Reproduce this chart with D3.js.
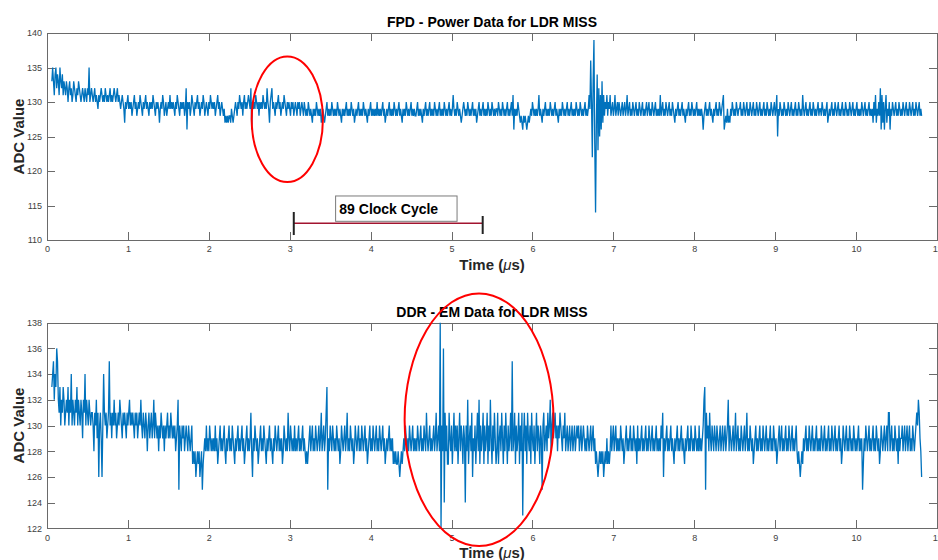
<!DOCTYPE html>
<html>
<head>
<meta charset="utf-8">
<script src="https://d3js.org/d3.v7.min.js"></script>
<style>
body { margin: 0; background: #fff; }
svg { font-family: "Liberation Sans", Arial, sans-serif; }
.axis path, .axis line { stroke: #6a6a6a; shape-rendering: crispEdges; }
.axis text { fill: #404040; font-size: 9px; }
.title { font-weight: bold; font-size: 14px; fill: #000; }
.lab { font-weight: bold; font-size: 15px; fill: #262626; }
</style>
</head>
<body>
<svg id="chart" width="938" height="560"></svg>
<script>
// sampling of both traces (us)
var sampleStart = 0.06, samplePeriod = 0.01;

var timeTicks = [0, 1, 2, 3, 4, 5, 6, 7, 8, 9, 10, 11];
var fpdTicks = [110, 115, 120, 125, 130, 135, 140];
var ddrTicks = [122, 124, 126, 128, 130, 132, 134, 136, 138];

// FPD power trace, ADC counts (one row = 0.5 us)
var fpdValues = [
  133,135,133,131,134,135,132,134,133,131,135,133,132,134,131,133,132,131,133,132,130,132,133,131,132,130,131,133,132,131,130,132,131,133,132,131,130,131,132,131,130,132,131,130,132,131,135,130,131,132,
  131,130,131,132,130,131,130,129,131,130,131,132,131,130,131,130,132,131,130,131,130,131,132,130,131,130,131,132,131,130,131,132,130,131,130,129,130,131,130,129,127,130,129,130,131,129,130,129,130,128,
  129,130,131,129,130,128,129,130,129,131,130,129,128,130,129,130,131,129,130,129,128,130,129,130,129,131,130,129,128,130,129,130,129,127,129,130,129,131,130,128,129,130,128,129,130,129,131,129,130,129,
  130,129,128,130,129,131,130,129,128,130,129,130,129,130,128,129,132,126,130,129,130,128,129,131,130,129,128,130,129,130,131,129,130,128,129,130,129,131,130,128,129,130,129,128,130,129,131,130,129,130,
  129,130,128,129,130,131,129,130,128,129,130,129,128,129,127,128,127,128,127,128,128,127,129,128,127,128,129,130,129,128,130,129,131,130,129,130,128,130,131,129,130,129,130,131,130,129,132,126,130,129,
  130,129,131,130,129,130,128,130,129,130,129,131,130,129,130,129,132,130,129,127,130,131,132,129,130,129,128,130,129,130,131,129,130,128,129,130,129,131,130,129,128,130,129,130,129,128,130,129,130,128,
  129,130,129,128,130,129,130,128,129,130,129,128,130,129,128,129,128,130,129,128,129,128,127,129,128,129,128,130,129,128,129,128,129,127,128,129,128,127,128,129,130,128,129,128,129,128,130,129,128,129,
  128,129,128,130,129,128,129,128,127,129,128,129,128,129,130,128,129,128,129,128,130,129,128,129,127,128,129,128,129,130,128,129,128,129,128,130,129,128,129,128,127,129,128,129,130,128,129,128,129,128,
  129,128,130,128,129,128,129,128,129,130,128,129,127,128,129,128,129,130,128,129,128,129,128,130,129,128,129,128,129,130,128,129,128,127,129,128,129,128,130,129,128,129,128,129,130,128,129,128,129,128,
  128,129,130,128,129,128,129,128,127,129,128,129,130,128,129,128,129,130,128,129,128,129,128,130,129,128,129,128,129,130,128,129,128,129,128,130,129,128,129,128,129,130,128,129,128,129,131,129,128,129,
  128,130,129,128,129,128,127,128,129,130,129,128,129,128,130,129,128,129,128,129,130,128,129,128,129,127,128,129,130,128,129,128,129,130,128,129,128,129,128,130,129,128,129,128,130,129,128,129,128,129,
  129,128,130,129,128,129,128,130,129,128,129,128,129,130,128,129,128,129,130,128,131,126,129,128,129,128,130,129,128,127,128,127,126,128,127,128,127,126,127,128,127,128,129,128,130,129,128,129,128,129,
  128,129,131,128,129,128,127,129,128,129,130,128,129,128,129,128,130,129,128,129,128,129,130,128,129,128,127,129,128,129,128,130,129,128,129,128,129,130,128,129,128,129,130,128,129,128,129,128,130,129,
  128,129,128,130,129,128,129,128,129,130,128,129,128,129,131,129,136,130,122,133,139,124,114,127,134,123,132,125,131,126,133,127,131,128,130,129,131,128,130,129,131,128,129,130,128,129,131,128,129,130,
  128,130,129,128,129,130,128,129,130,128,129,131,128,129,130,128,129,128,130,129,128,129,130,128,129,128,130,129,128,129,130,128,129,128,129,130,128,129,130,128,129,128,130,129,128,129,130,128,129,128,
  129,128,131,128,129,130,128,129,128,130,129,128,129,130,128,129,128,130,129,128,127,129,128,129,130,128,129,128,129,130,128,129,128,127,129,128,129,130,128,129,128,130,129,128,129,128,129,130,128,129,
  128,129,128,129,128,126,128,129,130,128,129,128,129,130,128,129,128,127,129,128,129,130,128,129,128,130,129,128,129,130,131,126,127,128,127,129,127,128,127,129,128,130,129,128,129,128,130,129,128,129,
  129,130,128,129,128,130,129,128,129,130,128,129,128,130,129,128,129,130,128,129,128,130,129,128,129,130,128,129,128,129,130,128,129,128,130,129,128,129,128,130,129,128,129,130,128,129,131,125,129,128,
  130,129,128,129,128,130,129,128,129,128,130,129,128,129,130,128,129,128,129,130,128,129,128,130,129,128,129,128,131,129,128,129,130,128,129,128,129,130,128,129,128,130,129,128,129,128,129,130,128,129,
  129,128,130,129,128,129,128,129,130,127,128,129,128,129,130,128,129,128,130,129,128,129,130,128,129,128,129,130,128,129,128,130,129,128,129,128,130,129,128,129,130,128,129,128,129,130,128,129,128,129,
  128,130,129,128,129,130,128,129,128,129,130,128,129,128,129,127,130,128,131,127,129,128,130,128,132,126,131,127,130,126,129,131,127,129,128,130,126,129,128,130,129,128,129,130,128,129,128,130,129,128,
  129,128,130,129,128,129,130,128,129,128,130,129,128,129,130,128,129,128,130,129,128,129,130,128,129,128
];

// DDR EM trace, ADC counts (one row = 0.5 us)
var ddrValues = [
  133,134,135,132,134,133,136,135,132,131,133,130,132,131,133,132,130,131,132,131,133,130,132,131,134,130,132,131,130,132,131,133,130,132,131,130,132,131,129,132,131,134,130,132,131,130,132,131,130,131,
  131,130,128,131,130,132,129,131,126,130,131,129,126,130,134,131,130,131,129,130,131,135,130,131,129,131,130,132,130,131,129,130,131,130,132,131,130,129,131,130,131,130,129,131,130,131,132,130,131,130,
  131,130,129,131,130,131,129,130,131,130,132,130,129,131,130,129,131,130,128,130,131,129,130,131,129,130,132,129,131,130,129,130,128,130,129,131,130,129,130,128,130,129,130,131,129,130,129,131,130,129,
  130,129,130,128,129,130,132,125,130,129,128,130,129,130,128,129,130,129,128,130,129,128,129,130,127,128,127,128,126,127,128,127,128,126,127,128,125,127,128,129,128,130,128,129,128,130,129,128,129,128,
  129,128,130,128,129,127,128,129,130,128,129,128,129,130,128,127,129,128,129,130,128,129,128,130,129,128,127,129,128,129,130,128,129,128,129,130,128,129,127,128,129,130,128,129,128,129,131,128,126,129,
  128,130,129,128,129,127,128,129,130,128,129,128,130,129,128,127,129,128,129,130,128,129,128,127,129,128,130,129,128,129,130,128,129,128,129,127,128,130,129,128,129,128,131,129,128,130,129,128,129,128,
  130,128,129,128,129,130,128,129,128,129,130,128,129,128,127,128,127,128,129,130,128,129,130,128,129,128,130,129,128,129,130,128,129,131,128,129,130,128,129,131,133,125,129,128,130,129,128,130,129,128,
  129,128,130,129,128,129,127,128,130,129,128,129,130,128,129,131,128,129,128,130,129,128,129,127,128,130,129,128,129,130,128,129,128,130,129,128,129,130,128,129,127,128,129,130,128,129,128,130,129,128,
  129,130,128,129,128,130,129,128,129,130,128,129,127,128,129,128,129,130,128,129,128,129,127,128,127,128,127,127,128,127,126,127,128,127,128,129,128,130,129,128,129,128,130,129,128,129,130,128,129,128,
  129,128,130,129,128,129,130,128,129,128,130,129,128,131,129,128,129,130,128,129,128,129,130,128,129,131,128,129,130,128,138,122,130,128,136,124,131,128,130,127,127,131,129,128,130,127,129,131,128,130,
  128,130,127,129,131,128,130,129,127,130,129,124,130,128,132,127,129,130,128,131,126,129,128,130,127,129,131,128,132,127,130,128,129,131,127,130,128,129,131,127,130,128,132,129,127,130,128,131,129,127,
  128,131,127,129,130,128,131,129,127,130,128,131,129,127,130,128,129,131,128,135,128,129,131,127,130,128,129,131,127,130,128,131,123,129,131,128,130,127,131,129,128,130,127,131,129,128,130,127,129,131,
  128,130,129,127,130,129,125,130,131,128,129,130,128,131,129,130,132,128,130,131,129,130,131,129,130,128,130,129,131,130,129,128,130,129,131,128,129,130,128,129,130,128,129,130,128,129,130,128,129,130,
  129,130,128,129,130,128,129,130,129,128,129,128,130,129,128,129,130,128,129,130,128,129,127,128,127,126,127,128,127,128,127,128,126,127,128,127,129,127,128,127,128,130,128,129,130,128,129,130,128,129,
  128,129,128,130,129,128,129,127,128,129,130,128,129,128,129,130,128,129,128,130,129,128,129,127,130,128,129,128,129,130,128,129,128,129,130,128,129,128,130,129,128,129,130,128,129,128,129,130,128,129,
  128,129,128,130,129,131,126,129,128,129,130,128,129,128,129,130,128,129,128,127,129,128,129,130,128,129,128,129,130,128,129,128,127,129,128,129,130,128,129,128,130,129,128,129,128,130,129,128,129,128,
  130,128,129,128,129,130,132,133,125,131,129,130,128,131,129,128,130,129,128,130,129,128,130,129,128,129,130,128,129,130,128,129,130,128,129,130,132,128,130,129,128,129,130,128,129,131,128,129,130,128,
  129,128,130,129,128,129,130,128,129,131,128,129,128,130,129,128,129,127,128,129,130,128,129,128,129,130,128,129,128,130,129,128,129,130,128,129,128,129,130,128,129,128,130,129,128,129,127,128,129,130,
  128,129,130,128,129,128,129,130,128,129,128,130,129,128,129,130,128,129,128,129,130,128,127,128,127,126,127,128,127,129,128,129,130,128,129,128,130,129,128,129,130,128,129,128,129,130,128,129,128,129,
  128,130,129,128,129,130,128,129,128,129,130,128,129,128,130,129,128,129,130,128,129,128,129,130,128,129,127,128,130,129,128,129,130,128,129,128,130,129,128,129,128,130,129,128,129,128,129,130,128,129,
  128,129,125,127,129,128,130,129,128,129,130,128,129,128,129,130,128,129,128,130,129,128,129,127,128,130,129,128,129,130,128,129,130,128,131,131,128,129,130,128,129,128,130,129,128,129,127,130,128,129,
  129,130,128,129,130,128,129,130,128,129,130,128,129,128,130,129,128,129,130,131,130,132,131,129,128,126
];

var svg = d3.select("#chart");
var left = 47, right = 937;

function panel(o) {
  var x = d3.scaleLinear().domain([0, 11]).range([left, right]);
  var y = d3.scaleLinear().domain(o.yDomain).range([o.bottom, o.top]);
  var g = svg.append("g");

  g.append("g").attr("class", "axis")
    .attr("transform", "translate(0," + o.bottom + ")")
    .call(d3.axisBottom(x).tickValues(timeTicks).tickSizeInner(-8).tickSizeOuter(0).tickPadding(6));
  g.append("g").attr("class", "axis")
    .attr("transform", "translate(0," + o.top + ")")
    .call(d3.axisTop(x).tickValues(timeTicks).tickSizeInner(-8).tickSizeOuter(0).tickFormat(""));
  g.append("g").attr("class", "axis")
    .attr("transform", "translate(" + left + ",0)")
    .call(d3.axisLeft(y).tickValues(o.ticks).tickSizeInner(-8).tickSizeOuter(0).tickPadding(5));
  g.append("g").attr("class", "axis")
    .attr("transform", "translate(" + right + ",0)")
    .call(d3.axisRight(y).tickValues(o.ticks).tickSizeInner(-8).tickSizeOuter(0).tickFormat(""));

  var line = d3.line()
    .x(function(d, i) { return x(sampleStart + i * samplePeriod); })
    .y(function(d) { return y(d); });
  g.append("path").datum(o.values)
    .attr("d", line)
    .attr("fill", "none")
    .attr("stroke", "#0072BD")
    .attr("stroke-width", 1.3);

  g.append("text").attr("class", "title")
    .attr("x", (left + right) / 2).attr("y", o.top - 6)
    .attr("text-anchor", "middle").text(o.title);

  var xl = g.append("text").attr("class", "lab")
    .attr("x", (left + right) / 2).attr("y", o.bottom + 30)
    .attr("text-anchor", "middle");
  xl.append("tspan").text("Time (");
  xl.append("tspan").attr("font-style", "italic").attr("font-weight", "normal").text("\u03bc");
  xl.append("tspan").text("s)");

  g.append("text").attr("class", "lab")
    .attr("transform", "translate(24," + (o.top + o.bottom) / 2 + ") rotate(-90)")
    .attr("text-anchor", "middle").text("ADC Value");

  // red ellipse marking
  g.append("ellipse")
    .attr("cx", x(o.ring[0])).attr("cy", y(o.ring[1]))
    .attr("rx", x(o.ring[2]) - x(0)).attr("ry", y(0) - y(o.ring[3]))
    .attr("fill", "none").attr("stroke", "#ff0000").attr("stroke-width", 2);

  return { x: x, y: y, g: g };
}

var p1 = panel({
  top: 33, bottom: 240, yDomain: [110, 140], ticks: fpdTicks,
  values: fpdValues, title: "FPD - Power Data for LDR MISS",
  ring: [2.97, 127.5, 0.44, 9.1]
});

var p2 = panel({
  top: 322.7, bottom: 528.3, yDomain: [122, 138], ticks: ddrTicks,
  values: ddrValues, title: "DDR - EM Data for LDR MISS",
  ring: [5.34, 130.45, 0.92, 9.83]
});

// 89 clock cycle span on the top panel
var x1 = p1.x, y1 = p1.y, a = p1.g;
a.append("line")
  .attr("x1", x1(3.05)).attr("x2", x1(5.385))
  .attr("y1", y1(112.42)).attr("y2", y1(112.42))
  .attr("stroke", "#a2142f").attr("stroke-width", 1.5);
a.append("line")
  .attr("x1", x1(3.05)).attr("x2", x1(3.05))
  .attr("y1", y1(114.06)).attr("y2", y1(110.72))
  .attr("stroke", "#222").attr("stroke-width", 2);
a.append("line")
  .attr("x1", x1(5.385)).attr("x2", x1(5.385))
  .attr("y1", y1(113.48)).attr("y2", y1(110.87))
  .attr("stroke", "#222").attr("stroke-width", 2);
a.append("rect")
  .attr("x", x1(3.567)).attr("y", y1(116.38))
  .attr("width", x1(5.068) - x1(3.567)).attr("height", y1(112.71) - y1(116.38))
  .attr("fill", "#fff").attr("stroke", "#7a7a7a").attr("stroke-width", 1);
a.append("text")
  .attr("x", x1(3.613)).attr("y", y1(113.77))
  .attr("font-weight", "bold").attr("font-size", "14px").attr("fill", "#000")
  .text("89 Clock Cycle");
</script>
</body>
</html>
